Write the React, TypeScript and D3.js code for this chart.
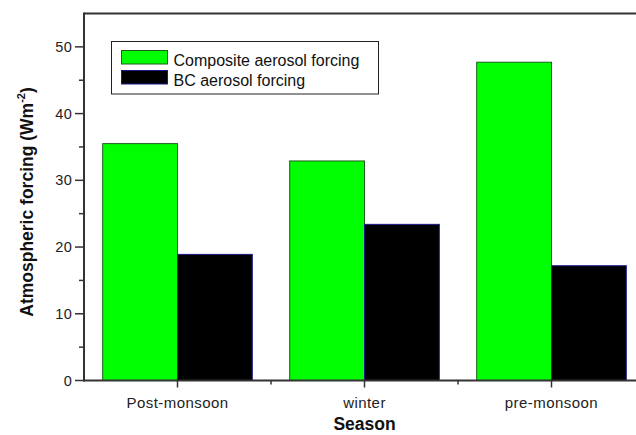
import * as d3 from "d3";

const seasons = ["Post-monsoon", "winter", "pre-monsoon"];
const seriesNames = ["Composite aerosol forcing", "BC aerosol forcing"];
const compositeForcing = [35.5, 32.9, 47.7];
const bcForcing = [18.9, 23.4, 17.2];
const yTicks = [0, 10, 20, 30, 40, 50];
const yMinorTicks = [5, 15, 25, 35, 45];

const fills = ["#00ff00", "#000000"];
const strokes = ["#1f5c1f", "#1a1a8c"];

export default function App() {
  const width = 636;
  const height = 435;
  const left = 84;
  const top = 13.5;
  const bottom = 380.5;
  const right = 645; // frame runs past the picture edge

  const x = d3.scaleBand<string>().domain(seasons).range([left, right]).paddingInner(0.2).paddingOuter(0.1);
  const inner = d3.scaleBand<number>().domain([0, 1]).range([0, x.bandwidth()]);
  const y = d3.scaleLinear().domain([0, 55]).range([bottom, top]);

  const series = [compositeForcing, bcForcing];
  const font = "Arial, 'Liberation Sans', sans-serif";

  const centers = seasons.map((s) => x(s)! + x.bandwidth() / 2);
  // minor x ticks sit between categories
  const between = centers.slice(0, -1).map((c, i) => (c + centers[i + 1]) / 2);

  return (
    <svg width={width} height={height} style={{ position: "absolute", left: 0, top: 0 }} fontFamily={font}>
      <rect width={width} height={height} fill="white" />

      {series.map((vals, si) =>
        vals.map((v, i) => (
          <rect
            key={`${si}-${i}`}
            x={x(seasons[i])! + inner(si)!}
            y={y(v)}
            width={inner.bandwidth()}
            height={bottom - y(v)}
            fill={fills[si]}
            stroke={strokes[si]}
            strokeWidth={1}
          />
        ))
      )}

      {/* frame */}
      <line x1={left} x2={width} y1={top} y2={top} stroke="#333" strokeWidth={2} />
      <line x1={left} x2={left} y1={top - 1} y2={bottom + 1} stroke="#333" strokeWidth={2} />
      <line x1={left - 1} x2={width} y1={bottom} y2={bottom} stroke="#333" strokeWidth={2} />

      {/* y ticks */}
      {yTicks.map((t) => (
        <g key={t}>
          <line x1={left - 9} x2={left} y1={y(t)} y2={y(t)} stroke="#333" strokeWidth={1.5} />
          <text x={left - 12} y={y(t)} dy="0.35em" textAnchor="end" fontSize={14.5} letterSpacing={0.3} fill="#222">
            {t}
          </text>
        </g>
      ))}
      {yMinorTicks.map((t) => (
        <line key={t} x1={left - 5} x2={left} y1={y(t)} y2={y(t)} stroke="#333" strokeWidth={1.5} />
      ))}

      {/* x ticks */}
      {centers.map((c, i) => (
        <g key={seasons[i]}>
          <line x1={c} x2={c} y1={bottom} y2={bottom + 7} stroke="#333" strokeWidth={1.5} />
          <text x={c} y={408} textAnchor="middle" fontSize={15} letterSpacing={0.45} fill="#222">
            {seasons[i]}
          </text>
        </g>
      ))}
      {between.map((b) => (
        <line key={b} x1={b} x2={b} y1={bottom} y2={bottom + 4} stroke="#333" strokeWidth={1.5} />
      ))}

      {/* axis titles */}
      <text x={(left + right) / 2} y={430} textAnchor="middle" fontSize={17.5} fontWeight="bold" fill="#111">
        Season
      </text>
      <text
        transform={`translate(33, 202) rotate(-90)`}
        textAnchor="middle"
        fontSize={17.5}
        fontWeight="bold"
        fill="#111"
      >
        Atmospheric forcing (Wm
        <tspan dy={-8} fontSize={11}>-2</tspan>
        <tspan dy={8}>)</tspan>
      </text>

      {/* legend */}
      <rect x={111.5} y={41.5} width={267} height={52.5} fill="white" stroke="#222" strokeWidth={1} />
      {seriesNames.map((name, i) => (
        <g key={name}>
          <rect x={121.5} y={50.5 + i * 20} width={46} height={13.5} fill={fills[i]} stroke={strokes[i]} strokeWidth={1} />
          <text x={173.5} y={66 + i * 20} fontSize={16} fill="#111">
            {name}
          </text>
        </g>
      ))}
    </svg>
  );
}
